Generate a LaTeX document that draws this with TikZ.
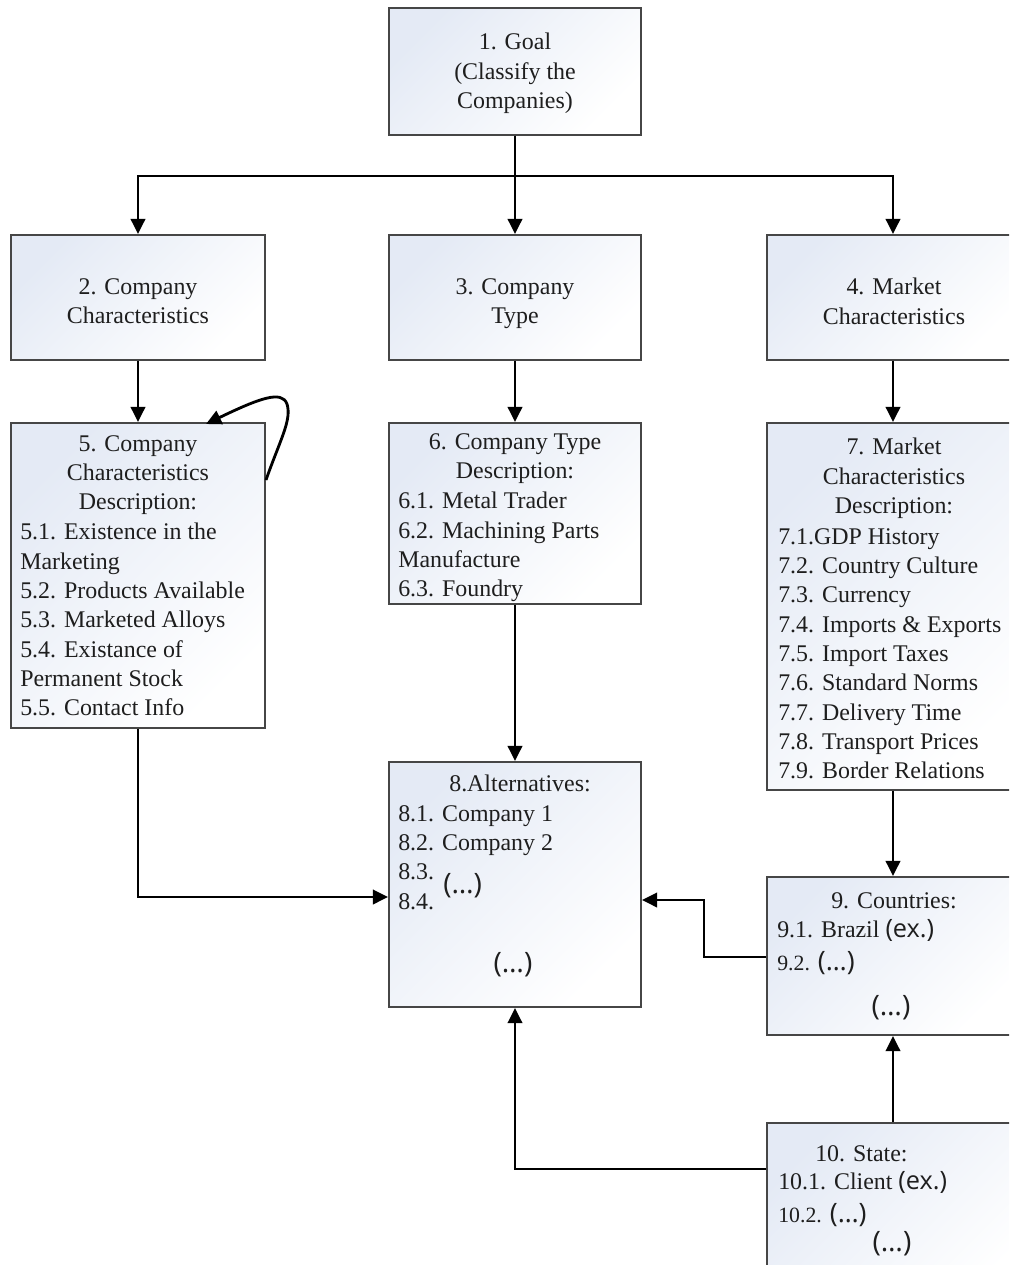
\documentclass[tikz,border=0pt]{standalone}
\usepackage{fontspec}
\setmainfont{Liberation Serif}
\newfontfamily\sansx{Open Sans}
\usetikzlibrary{arrows.meta,calc}

\definecolor{boxline}{RGB}{70,70,70}
\definecolor{boxtint}{RGB}{228,234,245}
\definecolor{ink}{RGB}{30,30,30}

% a box drawn from its corners given in picture units
\newcommand\mkbox[5]{%
  \node[boxnode, minimum width={(#4-#2)*0.025cm}, minimum height={(#5-#3)*0.025cm}]
    (#1) at ({(#2+#4)/2},{(#3+#5)/2}) {};}
\newcommand\ex{{\sansx\fontsize{18}{20}\selectfont(ex.)}}
\newcommand\dts{{\sansx\fontsize{19}{20}\selectfont(\ldots)}}
\newcommand\bigdts{{\sansx\fontsize{20}{20}\selectfont(\ldots)}}
\newcommand\smallnum[1]{{\fontsize{15.5}{20}\selectfont #1}}

\tikzset{
  boxnode/.style={draw=boxline, line width=1.4pt, inner sep=0pt,
    top color=boxtint, middle color=white, bottom color=white, shading angle=45},
  txt/.style={inner sep=0pt, text=ink, font=\fontsize{17}{20.85}\selectfont},
  title/.style={txt, anchor=north, align=center},
  items/.style={txt, anchor=north west, align=left},
  flow/.style={line width=2pt, draw=black,
    -{Triangle[length=0.38cm, width=0.36cm]}},
}

\begin{document}
\begin{tikzpicture}[x=0.025cm, y=-0.025cm]
\path[use as bounding box] (0,0) rectangle (1009,1265);
\clip (0,0) rectangle (1009,1265);
\fill[white] (0,0) rectangle (1009,1265);

% boxes
\mkbox{b1}{389}{8}{641}{135}
\mkbox{b2}{11}{235}{265}{360}
\mkbox{b3}{389}{235}{641}{360}
\mkbox{b4}{767}{235}{1019}{360}
\mkbox{b5}{11}{423}{265}{728}
\mkbox{b6}{389}{423}{641}{604}
\mkbox{b7}{767}{423}{1019}{790}
\mkbox{b8}{389}{762}{641}{1007}
\mkbox{b9}{767}{877}{1019}{1035}
\mkbox{b10}{767}{1123}{1019}{1310}

% texts
\node[title] (t1) at (515,33) {1. Goal\\(Classify the\\Companies)};
\node[title] (t2) at (138,278) {2. Company\\Characteristics};
\node[title] (t3) at (515,278) {3. Company\\Type};
\node[title] (t4) at (894,278) {4. Market\\Characteristics};

\node[title] (t5) at (138,435) {5. Company\\Characteristics\\Description:};
\node[items] (i5) at (20,523) {5.1. Existence in the\\Marketing\\5.2. Products Available\\5.3. Marketed Alloys\\5.4. Existance of\\Permanent Stock\\5.5. Contact Info};

\node[title] (t6) at (515,433) {6. Company Type\\Description:};
\node[items] (i6) at (398,492) {6.1. Metal Trader\\6.2. Machining Parts\\Manufacture\\6.3. Foundry};

\node[title] (t7) at (894,438) {7. Market\\Characteristics\\Description:};
\node[items] (i7) at (778,528) {7.1.GDP History\\7.2. Country Culture\\7.3. Currency\\7.4. Imports \& Exports\\7.5. Import Taxes\\7.6. Standard Norms\\7.7. Delivery Time\\7.8. Transport Prices\\7.9. Border Relations};

\node[title] (t8) at (520,775) {8.Alternatives:};
\node[items] (i8) at (398,805) {8.1. Company 1\\8.2. Company 2\\8.3.\\8.4.};
\node[txt, anchor=west] (d8a) at (443,886) {\bigdts};
\node[txt] (d8b) at (513,965) {\bigdts};

\node[title] (t9) at (894,892) {9. Countries:};
\node[txt, anchor=base west] (i9a) at (777,937) {9.1. Brazil \ex};
\node[txt, anchor=base west] (i9b) at (777,970) {\smallnum{9.2.} \dts};
\node[txt] (d9) at (891,1008) {\bigdts};

\node[items] (t10) at (815,1145) {10. State:};
\node[txt, anchor=base west] (i10a) at (778,1189) {10.1. Client \ex};
\node[txt, anchor=base west] (i10b) at (778,1222) {\smallnum{10.2.} \dts};
\node[txt] (d10) at (892,1244) {\bigdts};

% connectors
\draw[flow] (b1.south) -- (b3.north);
\draw[flow] (b1.south) -- ++(0,40) -| (b2.north);
\draw[flow] (b1.south) -- ++(0,40) -| (b4.north);
\draw[flow] (b2.south) -- (b5.north);
\draw[flow] (b3.south) -- (b6.north);
\draw[flow] (b4.south) -- (b7.north);
\draw[flow] (b6.south) -- (b8.north);
\draw[flow] (b7.south) -- (b9.north);
\draw[flow] (b5.south) |- ([shift={(0,12.5)}]b8.west);
\draw[flow] ([shift={(0,1)}]b9.west) -- ++(-62,0) |- ([shift={(0,15.5)}]b8.east);
\draw[flow] ([shift={(0,47)}]b10.north west) -| (b8.south);
\draw[flow] (b10.north) -- (b9.south);
% loop back onto box 5
\draw[flow] ([shift={(0,58)}]b5.north east)
  .. controls (280,440) and (292,420) .. (287,404)
  .. controls (282,390) and (260,398) .. ([shift={(68,2)}]b5.north);
\end{tikzpicture}
\end{document}
